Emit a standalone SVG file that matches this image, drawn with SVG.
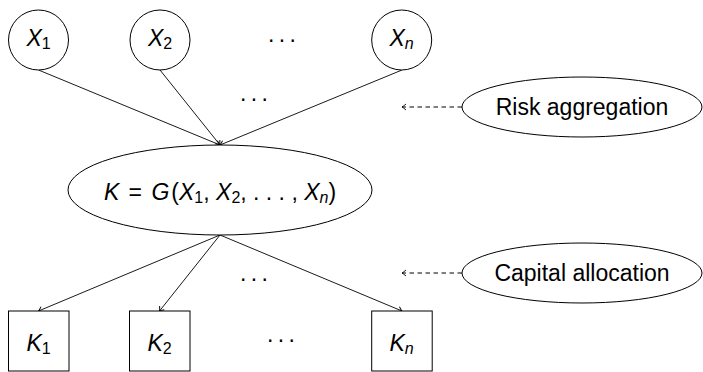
<svg xmlns="http://www.w3.org/2000/svg" width="703" height="372" viewBox="0 0 703 372">
<style>
.sh{fill:#fff;stroke:#000;stroke-width:1}
.m{font-family:"Liberation Sans",Arial,sans-serif;font-size:23px;fill:#000}
.i{font-style:italic}
.s{font-size:16px;font-style:normal}
.si{font-size:16px;font-style:italic}
.t{font-family:"Liberation Sans",Arial,sans-serif;font-size:23px;fill:#000}
.e{stroke:#000;stroke-width:0.9;fill:none}
.d{stroke:#000;stroke-width:1;fill:none;stroke-dasharray:4.5 3.5}
</style>
<defs>
<marker id="ah" markerUnits="userSpaceOnUse" markerWidth="12" markerHeight="12" refX="0" refY="0" viewBox="-6 -6 12 12" orient="auto">
<path d="M-4,-3 Q-1.2,-0.6 0,0 Q-1.2,0.6 -4,3" fill="none" stroke="#000" stroke-width="0.9"/>
</marker>
</defs>
<g id="connectors">
<line class="e" x1="38.5" y1="70" x2="220" y2="145" marker-end="url(#ah)"/>
<line class="e" x1="160" y1="70" x2="220" y2="145" marker-end="url(#ah)"/>
<line class="e" x1="402" y1="70" x2="220" y2="145" marker-end="url(#ah)"/>
<line class="e" x1="220" y1="235" x2="38.5" y2="311" marker-end="url(#ah)"/>
<line class="e" x1="220" y1="235" x2="159.5" y2="311" marker-end="url(#ah)"/>
<line class="e" x1="220" y1="235" x2="402" y2="311" marker-end="url(#ah)"/>
<line class="d" x1="462" y1="107" x2="402" y2="107" marker-end="url(#ah)"/>
<line class="d" x1="462" y1="273" x2="402" y2="273" marker-end="url(#ah)"/>
</g>
<g id="X1"><circle class="sh" cx="38.5" cy="40" r="30"/><text class="m i" x="26.5" y="46">X<tspan class="s" dy="3">1</tspan></text></g>
<g id="X2"><circle class="sh" cx="160" cy="40" r="30"/><text class="m i" x="148" y="46">X<tspan class="s" dy="3">2</tspan></text></g>
<g id="Xn"><circle class="sh" cx="401.7" cy="40" r="30"/><text class="m i" x="389.5" y="46">X<tspan class="si" dy="3">n</tspan></text></g>
<g id="dots-top"><text class="m" x="268" y="42" letter-spacing="4.3">...</text></g>
<g id="dots-mid1"><text class="m" x="240" y="101" letter-spacing="4.3">...</text></g>
<g id="K"><ellipse class="sh" cx="220" cy="190" rx="152" ry="45"/>
<text class="m" x="220" y="200" text-anchor="middle"><tspan class="i">K</tspan><tspan dx="3"> = </tspan><tspan class="i" dx="3">G</tspan><tspan dx="2">(</tspan><tspan class="i">X</tspan><tspan class="s" dy="3">1</tspan><tspan dy="-3">, </tspan><tspan class="i">X</tspan><tspan class="s" dy="3">2</tspan><tspan dy="-3">, . . . , </tspan><tspan class="i">X</tspan><tspan class="si" dy="3">n</tspan><tspan dy="-3">)</tspan></text></g>
<g id="risk"><ellipse class="sh" cx="582" cy="107" rx="120" ry="30"/><text class="t" x="582" y="115" text-anchor="middle">Risk aggregation</text></g>
<g id="capital"><ellipse class="sh" cx="582" cy="273" rx="120" ry="30"/><text class="t" x="582" y="281" text-anchor="middle">Capital allocation</text></g>
<g id="dots-mid2"><text class="m" x="240" y="281" letter-spacing="4.3">...</text></g>
<g id="K1"><rect class="sh" x="8.5" y="311" width="60.5" height="60"/><text class="m i" x="26.5" y="351">K<tspan class="s" dy="3">1</tspan></text></g>
<g id="K2"><rect class="sh" x="129.5" y="311" width="60.5" height="60"/><text class="m i" x="147.5" y="351">K<tspan class="s" dy="3">2</tspan></text></g>
<g id="dots-bot"><text class="m" x="267" y="342" letter-spacing="4.3">...</text></g>
<g id="Kn"><rect class="sh" x="371.7" y="311" width="60.5" height="60"/><text class="m i" x="389.5" y="351">K<tspan class="si" dy="3">n</tspan></text></g>
</svg>
